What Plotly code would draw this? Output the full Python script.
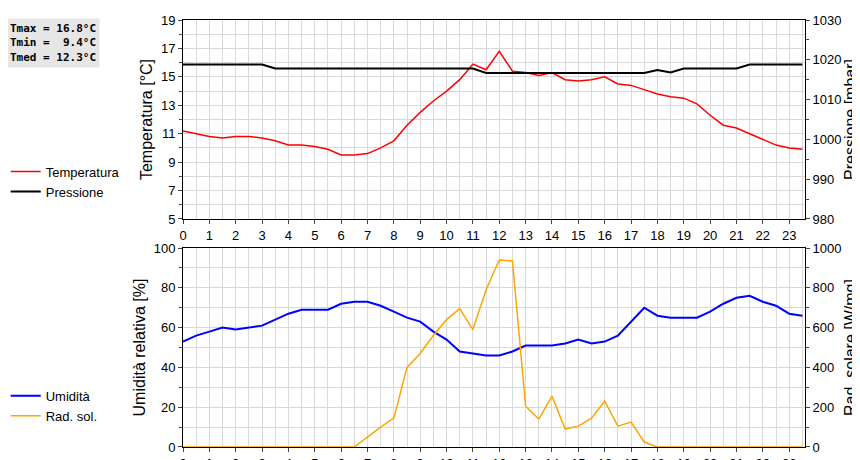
import plotly.graph_objects as go

hours = [i * 0.5 for i in range(48)]
hour_ticks = list(range(24))
temperatura = [11.2, 11.0, 10.8, 10.7, 10.8, 10.8, 10.7, 10.5, 10.2, 10.2, 10.1, 9.9, 9.5, 9.5,
               9.6, 10.0, 10.5, 11.6, 12.5, 13.3, 14.0, 14.8, 15.9, 15.5, 16.8, 15.4, 15.3, 15.1,
               15.3, 14.8, 14.7, 14.8, 15.0, 14.5, 14.4, 14.1, 13.8, 13.6, 13.5, 13.1, 12.3, 11.6,
               11.4, 11.0, 10.6, 10.2, 10.0, 9.9]
pressione = [1018.8] * 7 + [1017.8] * 16 + [1016.7] * 13 + [1017.4, 1016.8] + [1017.8] * 5 + [1018.8] * 5
umidita = [53, 56, 58, 60, 59, 60, 61, 64, 67, 69, 69, 69, 72, 73, 73, 71, 68, 65, 63, 58, 54, 48,
           47, 46, 46, 48, 51, 51, 51, 52, 54, 52, 53, 56, 63, 70, 66, 65, 65, 65, 68, 72, 75, 76,
           73, 71, 67, 66]
rad_sol = [0] * 13 + [0, 50, 100, 145, 400, 470, 560, 640, 695, 590, 790, 940, 935, 205, 140, 255,
                      90, 105, 145, 230, 105, 125, 25] + [0] * 12
rad_sol = rad_sol[:48]
stats = ["Tmax = 16.8°C", "Tmin =  9.4°C", "Tmed = 12.3°C"]

fig = go.Figure()
fig.add_trace(go.Scatter(x=hours, y=temperatura, name="Temperatura", line=dict(color="#ff0000", width=1.5),
                         xaxis="x", yaxis="y", legend="legend"))
fig.add_trace(go.Scatter(x=hours, y=pressione, name="Pressione", line=dict(color="#000000", width=2),
                         xaxis="x", yaxis="y2", legend="legend"))
fig.add_trace(go.Scatter(x=hours, y=umidita, name="Umidità", line=dict(color="#0000ff", width=2),
                         xaxis="x2", yaxis="y3", legend="legend2"))
fig.add_trace(go.Scatter(x=hours, y=rad_sol, name="Rad. sol.", line=dict(color="#ffa500", width=1.5),
                         xaxis="x2", yaxis="y4", legend="legend2"))

grid = "#d9d9d9"
font = dict(family="Liberation Sans, Arial", size=13, color="#000")
xcommon = dict(range=[0, 23.6], tickvals=hour_ticks, ticks="outside", ticklen=4, showgrid=True,
               gridcolor=grid, showline=True, linecolor="#000", mirror=True, zeroline=False,
               automargin=False,
               minor=dict(dtick=0.5, showgrid=True, gridcolor=grid, ticks=""), tickfont=dict(size=13))
ycommon = dict(ticks="outside", ticklen=4, showline=True, linecolor="#000", mirror=False, zeroline=False,
               gridcolor=grid, tickfont=dict(size=13), automargin=False)
top = [0.534, 1.0]
bot = [0.0, 0.466]
fig.update_layout(
    width=860, height=460, margin=dict(l=175, r=63, t=12, b=21, autoexpand=False),
    paper_bgcolor="white", plot_bgcolor="white", font=font,
    xaxis=dict(domain=[0, 1], anchor="y", **xcommon),
    xaxis2=dict(domain=[0, 1], anchor="y3", **xcommon),
    yaxis=dict(domain=top, range=[5, 19], tickvals=list(range(5, 20, 2)),
               minor=dict(dtick=1, showgrid=True, gridcolor=grid, ticks="outside", ticklen=3),
               title=dict(text="Temperatura [°C]", standoff=4), **ycommon),
    yaxis2=dict(domain=top, overlaying="y", side="right", anchor="x", range=[980, 1030], dtick=10,
                showgrid=False, title=dict(text="Pressione [mbar]", standoff=4),
                minor=dict(dtick=5, ticks="outside", ticklen=3), **ycommon),
    yaxis3=dict(domain=bot, anchor="x2", range=[0, 100], dtick=20,
                minor=dict(dtick=10, showgrid=True, gridcolor=grid, ticks="outside", ticklen=3),
                title=dict(text="Umidità relativa [%]", standoff=4), **ycommon),
    yaxis4=dict(domain=bot, overlaying="y3", side="right", anchor="x2", range=[0, 1000], dtick=200,
                showgrid=False, title=dict(text="Rad. solare [W/mq]", standoff=4),
                minor=dict(dtick=100, ticks="outside", ticklen=3), **ycommon),
    legend=dict(x=-0.285, y=0.68, xanchor="left", yanchor="top", bgcolor="rgba(0,0,0,0)",
                font=dict(size=13), tracegroupgap=0, itemwidth=30),
    legend2=dict(x=-0.285, y=0.155, xanchor="left", yanchor="top", bgcolor="rgba(0,0,0,0)",
                 font=dict(size=13), tracegroupgap=0, itemwidth=30),
    showlegend=True,
)
fig.add_annotation(text="<br>".join(stats), xref="paper", yref="paper", x=-0.285, y=1.005,
                   xanchor="left", yanchor="top", showarrow=False, align="left",
                   bgcolor="#e6e6e6", borderpad=3,
                   font=dict(family="DejaVu Sans Mono", size=11, color="#000", weight="bold"))
fig.write_html("out.html")
